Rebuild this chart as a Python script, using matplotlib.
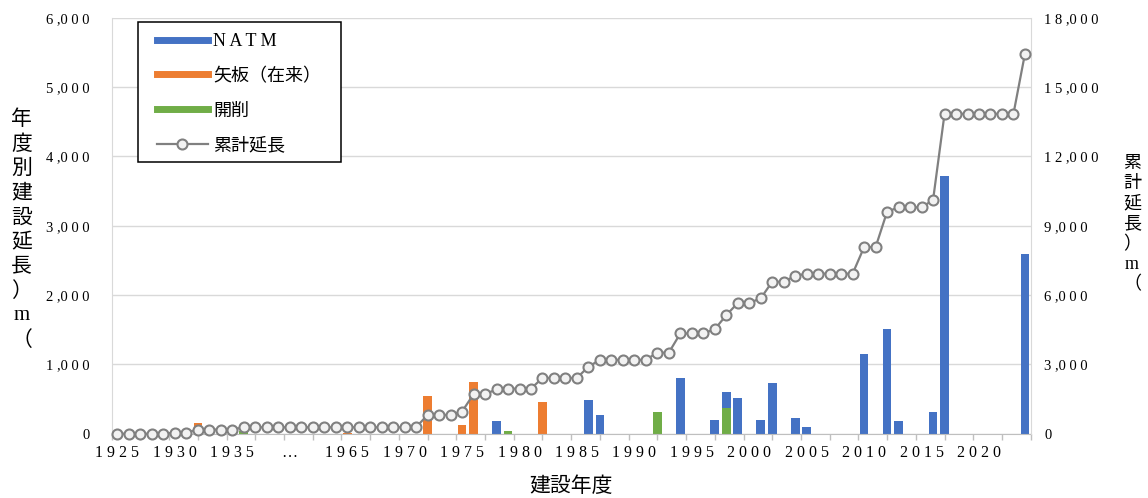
import matplotlib
matplotlib.use("Agg")
import matplotlib.pyplot as plt
import numpy as np
from matplotlib.lines import Line2D
from matplotlib.patches import Rectangle

# ---------------- data ----------------
categories = ([str(y) for y in range(1925, 1940)] + ["…"] +
              [str(y) for y in range(1961, 2025)])

natm_years = ["1978", "1986", "1987", "1994", "1997", "1998", "1999", "2001", "2002",
              "2004", "2005", "2010", "2012", "2013", "2016", "2017", "2024"]
natm_values = [190, 480, 275, 810, 200, 225, 510, 200, 725,
               220, 100, 1155, 1505, 185, 320, 3720, 2600]

yaita_years = ["1932", "1965", "1972", "1975", "1976", "1982"]
yaita_values = [150, 15, 545, 120, 750, 460]

kaisaku_years = ["1936", "1979", "1992", "1998"]
kaisaku_values = [40, 40, 315, 370]

cumulative = [0, 0, 0, 0, 0, 50, 50, 180, 180, 180, 180,
              280, 280, 280, 280, 280,
              280, 280, 280, 280,
              280, 280, 280, 280, 280, 280, 280,
              815, 815, 815, 960, 1710, 1710, 1920, 1950, 1950, 1950,
              2415, 2415, 2415, 2415, 2900, 3200, 3200, 3200, 3200, 3200,
              3510, 3510, 4340, 4340, 4340, 4525, 5130, 5660, 5660, 5860,
              6580, 6580, 6830, 6930, 6930, 6930, 6930, 6930, 8080, 8080,
              9610, 9800, 9800, 9800, 10115,
              13850, 13850, 13850, 13850, 13850, 13850, 13850, 16450]

left_ticks = [0, 1000, 2000, 3000, 4000, 5000, 6000]
right_ticks = [0, 3000, 6000, 9000, 12000, 15000, 18000]

legend_labels = ["NATM", "矢板（在来）", "開削", "累計延長"]
left_label = "年度別建設延長）m（"
right_label = "累計延長）m（"
x_label = "建設年度"

# ---------------- helpers ----------------
def spaced(s):
    out = ""
    for i, c in enumerate(s):
        if i > 0 and s[i - 1] != ",":
            out += " "
        out += c
    return out

def series(years, values):
    arr = np.zeros(len(categories))
    for y, v in zip(years, values):
        arr[categories.index(y)] = v
    return arr

natm = series(natm_years, natm_values)
yaita = series(yaita_years, yaita_values)
kaisaku = series(kaisaku_years, kaisaku_values)
x = np.arange(len(categories))

BLUE, ORANGE, GREEN, GRAY = "#4472C4", "#ED7D31", "#70AD47", "#808080"
SERIF = "Liberation Serif"
CJK = "Noto Sans CJK JP"

W, H = 1148, 498
fig = plt.figure(figsize=(W / 100, H / 100), dpi=100)
L, R, T, B = 111.7, 1030.7, 17.9, 433.7
ax = fig.add_axes([L / W, 1 - B / H, (R - L) / W, (B - T) / H])
ax2 = ax.twinx()

bw = 0.75
ax.bar(x, kaisaku, width=bw, color=GREEN, zorder=2)
ax.bar(x, yaita, width=bw, bottom=kaisaku, color=ORANGE, zorder=2)
ax.bar(x, natm, width=bw, bottom=kaisaku + yaita, color=BLUE, zorder=2)

ax2.plot(x, cumulative, color=GRAY, lw=1.6, marker="o", ms=7.2,
         mfc="#f2f2f2", mec=GRAY, mew=1.5, zorder=3, clip_on=False)

ax.set_xlim(-0.5, len(categories) - 0.5)
ax.set_ylim(0, 6000)
ax2.set_ylim(0, 18000)

ax.set_yticks(left_ticks)
ax.set_yticklabels([spaced(f"{v:,}") for v in left_ticks], fontfamily=SERIF, fontsize=10.5)
ax2.set_yticks(right_ticks)
ax2.set_yticklabels([spaced(f"{v:,}") for v in right_ticks], fontfamily=SERIF, fontsize=10.5)
ax.tick_params(axis="y", length=0, pad=16, colors="black")
ax2.tick_params(axis="y", length=0, pad=9.6, colors="black")

major = list(range(0, len(categories), 5))
ax.set_xticks(major)
ax.set_xticklabels([spaced(categories[i]) for i in major], fontfamily=SERIF, fontsize=11.5)
ax.set_xticks(np.arange(-0.5, len(categories), 2.5), minor=True)
ax.tick_params(axis="x", which="major", length=0, pad=8, colors="black")
ax.tick_params(axis="x", which="minor", length=4, width=1, color="#bfbfbf", direction="out")

ax.yaxis.grid(True, color="#d9d9d9", lw=1)
ax.set_axisbelow(True)

for a in (ax, ax2):
    a.spines["top"].set_visible(False)
ax.spines["left"].set_color("#d9d9d9")
ax.spines["bottom"].set_color("#bfbfbf")
ax.spines["right"].set_visible(False)
ax2.spines["left"].set_visible(False)
ax2.spines["bottom"].set_visible(False)
ax2.spines["right"].set_color("#d9d9d9")

# axis titles
for i, ch in enumerate(left_label):
    fam = SERIF if ch == "m" else CJK
    fig.text(21.7 / W, 1 - (119 + 24.6 * i) / H, ch, ha="center", va="center",
             fontsize=15, family=fam)
for i, ch in enumerate(right_label):
    fam = SERIF if ch == "m" else CJK
    fig.text(1132 / W, 1 - (163 + 20.2 * i) / H, ch, ha="center", va="center",
             fontsize=13, family=fam)
fig.text(571.5 / W, 1 - 486 / H, x_label, ha="center", va="center", fontsize=15, family=CJK)

# legend
fig.add_artist(Rectangle((138.3 / W, 1 - 162.3 / H), (340.7 - 138.3) / W, (162.3 - 22.3) / H,
                         transform=fig.transFigure, facecolor="white", edgecolor="black",
                         lw=1.1, zorder=4))
handles = [Line2D([0], [0], color=BLUE, lw=5),
           Line2D([0], [0], color=ORANGE, lw=5),
           Line2D([0], [0], color=GREEN, lw=5),
           Line2D([0], [0], color=GRAY, lw=1.6, marker="o", ms=7.2,
                  mfc="#f2f2f2", mec=GRAY, mew=1.5)]
leg = fig.legend(handles, [spaced(legend_labels[0])] + legend_labels[1:],
                 loc="upper left", bbox_to_anchor=(157 / W, 1 - 33 / H),
                 frameon=False, borderpad=0, borderaxespad=0, handlelength=2.8,
                 handletextpad=0.3, labelspacing=0.93, prop={"family": CJK, "size": 13})
leg.set_zorder(5)
leg.get_texts()[0].set_fontfamily(SERIF)

fig.savefig("out.png", dpi=100)
